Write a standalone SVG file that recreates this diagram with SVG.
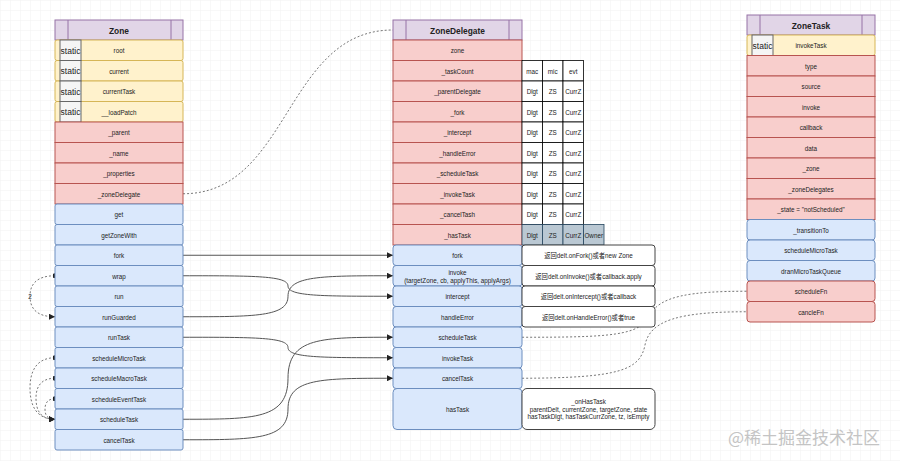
<svg xmlns="http://www.w3.org/2000/svg" width="900" height="461" viewBox="0 0 900 461">
<defs>
<pattern id="grid" width="10" height="10" patternUnits="userSpaceOnUse">
<path d="M10,0 L0,0 0,10" fill="none" stroke="#f1f1f1" stroke-width="1"/>
</pattern>
<marker id="arr" viewBox="0 0 6 6" refX="6" refY="3" markerWidth="6" markerHeight="6" markerUnits="userSpaceOnUse" orient="auto">
<path d="M0,0 L6,3 L0,6 z" fill="#222"/>
</marker>
<marker id="dot" viewBox="0 0 6 6" refX="3" refY="3" markerWidth="5" markerHeight="5" markerUnits="userSpaceOnUse" orient="auto">
<circle cx="3" cy="3" r="3" fill="#222"/>
</marker>
<style>
text{font-family:"Liberation Sans",Arial,"Noto Sans CJK SC",sans-serif;fill:#222;text-anchor:middle;dominant-baseline:central}
.t{font-size:6.3px}
.h{font-size:8.4px;font-weight:bold}
.s{font-size:8.5px}
.hd{fill:#e1d5e7;stroke:#9673a6;stroke-width:1}
.y{fill:#fff2cc;stroke:#d6b656;stroke-width:1}
.r{fill:#f8cecc;stroke:#b85450;stroke-width:1}
.b{fill:#dae8fc;stroke:#6c8ebf;stroke-width:1}
.st{fill:#f5f5f5;stroke:#666;stroke-width:1}
.c{fill:#fff;stroke:#000;stroke-width:0.8}
.cg{fill:#bac8d3;stroke:#23445d;stroke-width:0.8}
.w{fill:#fff;stroke:#444;stroke-width:1}
.e{fill:none;stroke:#555;stroke-width:1}
.d{fill:none;stroke:#777;stroke-width:1;stroke-dasharray:2 2}
</style>
</defs>
<rect width="900" height="461" fill="#fff"/>
<rect width="900" height="461" fill="url(#grid)"/>

<g id="connectors">
<path class="d" d="M183,193.75 C290,193.75 285,30 393,30"/>
<path class="e" d="M183,255.25 L393,255.25" marker-end="url(#arr)"/>
<path class="e" d="M183,275.75 C255,275.75 288,275.75 288,286 S321,296.25 393,296.25" marker-end="url(#arr)"/>
<path class="e" d="M183,316.75 C255,316.75 288,316.75 288,296.25 S321,275.75 393,275.75" marker-end="url(#arr)"/>
<path class="e" d="M183,337.25 C255,337.25 288,337.25 288,347.5 S321,357.75 393,357.75" marker-end="url(#arr)"/>
<path class="e" d="M183,419.25 C255,419.25 288,419.25 288,378.25 S321,337.25 393,337.25" marker-end="url(#arr)"/>
<path class="e" d="M183,439.75 C255,439.75 288,439.75 288,409 S321,378.25 393,378.25" marker-end="url(#arr)"/>
<path class="d" d="M55,275.75 C36,275.75 30,285 30,296 C30,308 36,316.75 55,316.75" marker-start="url(#dot)" marker-end="url(#arr)"/>
<text class="t" x="30" y="296">2</text>
<path class="d" d="M55,357.75 C36,357.75 30,372 30,388 C30,405 36,419.25 55,419.25" marker-start="url(#dot)" marker-end="url(#arr)"/>
<path class="d" d="M55,378.25 C40,378.25 36,388 36,398 C36,410 40,419.25 55,419.25" marker-start="url(#dot)" marker-end="url(#arr)"/>
<path class="d" d="M55,398.75 C47,398.75 45,404 45,409 C45,415 47,419.25 55,419.25" marker-start="url(#dot)" marker-end="url(#arr)"/>
<path class="d" d="M522,337.25 C610,337.25 640,336 650,315 C660,296 690,291.25 747,291.25"/>
<path class="d" d="M522,378.25 C620,378 640,370 645,345 C650,320 680,311.75 747,311.75"/>
</g>

<g id="zone">
<rect class="hd" x="55" y="20" width="128" height="20"/>
<path class="hd" d="M68,20 V40 M171,20 V40"/>
<text class="h" x="119" y="30.5">Zone</text>
<rect class="y" x="55" y="40" width="128" height="20.5" rx="2"/>
<rect class="y" x="55" y="60.5" width="128" height="20.5" rx="2"/>
<rect class="y" x="55" y="81" width="128" height="20.5" rx="2"/>
<rect class="y" x="55" y="101.5" width="128" height="20.5" rx="2"/>
<rect class="st" x="60" y="40" width="21" height="20.5"/>
<rect class="st" x="60" y="60.5" width="21" height="20.5"/>
<rect class="st" x="60" y="81" width="21" height="20.5"/>
<rect class="st" x="60" y="101.5" width="21" height="20.5"/>
<text class="s" x="70.5" y="50.5">static</text>
<text class="s" x="70.5" y="71">static</text>
<text class="s" x="70.5" y="91.5">static</text>
<text class="s" x="70.5" y="112">static</text>
<text class="t" x="119" y="50.5">root</text>
<text class="t" x="119" y="71">current</text>
<text class="t" x="119" y="91.5">currentTask</text>
<text class="t" x="119" y="112">__loadPatch</text>
<rect class="r" x="55" y="122" width="128" height="20.5"/>
<rect class="r" x="55" y="142.5" width="128" height="20.5"/>
<rect class="r" x="55" y="163" width="128" height="20.5"/>
<rect class="r" x="55" y="183.5" width="128" height="20.5"/>
<text class="t" x="119" y="132.5">_parent</text>
<text class="t" x="119" y="153">_name</text>
<text class="t" x="119" y="173.5">_properties</text>
<text class="t" x="119" y="194">_zoneDelegate</text>
<rect class="b" x="55" y="204" width="128" height="20.5" rx="2"/>
<rect class="b" x="55" y="224.5" width="128" height="20.5" rx="2"/>
<rect class="b" x="55" y="245" width="128" height="20.5" rx="2"/>
<rect class="b" x="55" y="265.5" width="128" height="20.5" rx="2"/>
<rect class="b" x="55" y="286" width="128" height="20.5" rx="2"/>
<rect class="b" x="55" y="306.5" width="128" height="20.5" rx="2"/>
<rect class="b" x="55" y="327" width="128" height="20.5" rx="2"/>
<rect class="b" x="55" y="347.5" width="128" height="20.5" rx="2"/>
<rect class="b" x="55" y="368" width="128" height="20.5" rx="2"/>
<rect class="b" x="55" y="388.5" width="128" height="20.5" rx="2"/>
<rect class="b" x="55" y="409" width="128" height="20.5" rx="2"/>
<rect class="b" x="55" y="429.5" width="128" height="20.5" rx="2"/>
<text class="t" x="119" y="214.5">get</text>
<text class="t" x="119" y="235">getZoneWith</text>
<text class="t" x="119" y="255.5">fork</text>
<text class="t" x="119" y="276">wrap</text>
<text class="t" x="119" y="296.5">run</text>
<text class="t" x="119" y="317">runGuarded</text>
<text class="t" x="119" y="337.5">runTask</text>
<text class="t" x="119" y="358">scheduleMicroTask</text>
<text class="t" x="119" y="378.5">scheduleMacroTask</text>
<text class="t" x="119" y="399">scheduleEventTask</text>
<text class="t" x="119" y="419.5">scheduleTask</text>
<text class="t" x="119" y="440">cancelTask</text>
</g>

<g id="zoneDelegate">
<rect class="hd" x="393" y="20" width="129" height="20"/>
<path class="hd" d="M406,20 V40 M509,20 V40"/>
<text class="h" x="457.5" y="30.5">ZoneDelegate</text>
<rect class="r" x="393" y="40" width="129" height="20.5"/>
<rect class="r" x="393" y="60.5" width="129" height="20.5"/>
<rect class="r" x="393" y="81" width="129" height="20.5"/>
<rect class="r" x="393" y="101.5" width="129" height="20.5"/>
<rect class="r" x="393" y="122" width="129" height="20.5"/>
<rect class="r" x="393" y="142.5" width="129" height="20.5"/>
<rect class="r" x="393" y="163" width="129" height="20.5"/>
<rect class="r" x="393" y="183.5" width="129" height="20.5"/>
<rect class="r" x="393" y="204" width="129" height="20.5"/>
<rect class="r" x="393" y="224.5" width="129" height="20.5"/>
<text class="t" x="457.5" y="50.5">zone</text>
<text class="t" x="457.5" y="71">_taskCount</text>
<text class="t" x="457.5" y="91.5">_parentDelegate</text>
<text class="t" x="457.5" y="112">_fork</text>
<text class="t" x="457.5" y="132.5">_intercept</text>
<text class="t" x="457.5" y="153">_handleError</text>
<text class="t" x="457.5" y="173.5">_scheduleTask</text>
<text class="t" x="457.5" y="194">_invokeTask</text>
<text class="t" x="457.5" y="214.5">_cancelTash</text>
<text class="t" x="457.5" y="235">_hasTask</text>
<rect class="b" x="393" y="245" width="129" height="20.5" rx="3"/>
<rect class="b" x="393" y="265.5" width="129" height="20.5" rx="3"/>
<rect class="b" x="393" y="286" width="129" height="20.5" rx="3"/>
<rect class="b" x="393" y="306.5" width="129" height="20.5" rx="3"/>
<rect class="b" x="393" y="327" width="129" height="20.5" rx="3"/>
<rect class="b" x="393" y="347.5" width="129" height="20.5" rx="3"/>
<rect class="b" x="393" y="368" width="129" height="20.5" rx="3"/>
<rect class="b" x="393" y="388.5" width="129" height="41" rx="4"/>
<text class="t" x="457.5" y="255.5">fork</text>
<text class="t" x="457.5" y="272">invoke</text>
<text class="t" x="457.5" y="280">(targetZone, cb, applyThis, applyArgs)</text>
<text class="t" x="457.5" y="296.5">intercept</text>
<text class="t" x="457.5" y="317">handleError</text>
<text class="t" x="457.5" y="337.5">scheduleTask</text>
<text class="t" x="457.5" y="358">invokeTask</text>
<text class="t" x="457.5" y="378.5">cancelTask</text>
<text class="t" x="457.5" y="409">hasTask</text>
</g>

<g id="taskCountTable">
<rect class="c" x="522" y="60.5" width="20.5" height="20.5"/><rect class="c" x="542.5" y="60.5" width="20.5" height="20.5"/><rect class="c" x="563" y="60.5" width="20.5" height="20.5"/>
<text class="t" x="532.25" y="71">mac</text><text class="t" x="552.75" y="71">mic</text><text class="t" x="573.25" y="71">evt</text>
<rect class="c" x="522" y="81" width="20.5" height="20.5"/><rect class="c" x="542.5" y="81" width="20.5" height="20.5"/><rect class="c" x="563" y="81" width="20.5" height="20.5"/>
<text class="t" x="532.25" y="91.5">Dlgt</text><text class="t" x="552.75" y="91.5">ZS</text><text class="t" x="573.25" y="91.5">CurrZ</text>
<rect class="c" x="522" y="101.5" width="20.5" height="20.5"/><rect class="c" x="542.5" y="101.5" width="20.5" height="20.5"/><rect class="c" x="563" y="101.5" width="20.5" height="20.5"/>
<text class="t" x="532.25" y="112">Dlgt</text><text class="t" x="552.75" y="112">ZS</text><text class="t" x="573.25" y="112">CurrZ</text>
<rect class="c" x="522" y="122" width="20.5" height="20.5"/><rect class="c" x="542.5" y="122" width="20.5" height="20.5"/><rect class="c" x="563" y="122" width="20.5" height="20.5"/>
<text class="t" x="532.25" y="132.5">Dlgt</text><text class="t" x="552.75" y="132.5">ZS</text><text class="t" x="573.25" y="132.5">CurrZ</text>
<rect class="c" x="522" y="142.5" width="20.5" height="20.5"/><rect class="c" x="542.5" y="142.5" width="20.5" height="20.5"/><rect class="c" x="563" y="142.5" width="20.5" height="20.5"/>
<text class="t" x="532.25" y="153">Dlgt</text><text class="t" x="552.75" y="153">ZS</text><text class="t" x="573.25" y="153">CurrZ</text>
<rect class="c" x="522" y="163" width="20.5" height="20.5"/><rect class="c" x="542.5" y="163" width="20.5" height="20.5"/><rect class="c" x="563" y="163" width="20.5" height="20.5"/>
<text class="t" x="532.25" y="173.5">Dlgt</text><text class="t" x="552.75" y="173.5">ZS</text><text class="t" x="573.25" y="173.5">CurrZ</text>
<rect class="c" x="522" y="183.5" width="20.5" height="20.5"/><rect class="c" x="542.5" y="183.5" width="20.5" height="20.5"/><rect class="c" x="563" y="183.5" width="20.5" height="20.5"/>
<text class="t" x="532.25" y="194">Dlgt</text><text class="t" x="552.75" y="194">ZS</text><text class="t" x="573.25" y="194">CurrZ</text>
<rect class="c" x="522" y="204" width="20.5" height="20.5"/><rect class="c" x="542.5" y="204" width="20.5" height="20.5"/><rect class="c" x="563" y="204" width="20.5" height="20.5"/>
<text class="t" x="532.25" y="214.5">Dlgt</text><text class="t" x="552.75" y="214.5">ZS</text><text class="t" x="573.25" y="214.5">CurrZ</text>
<rect class="cg" x="522" y="224.5" width="20.5" height="20.5"/><rect class="cg" x="542.5" y="224.5" width="20.5" height="20.5"/><rect class="cg" x="563" y="224.5" width="20.5" height="20.5"/><rect class="cg" x="583.5" y="224.5" width="20.5" height="20.5"/>
<text class="t" x="532.25" y="235">Dlgt</text><text class="t" x="552.75" y="235">ZS</text><text class="t" x="573.25" y="235">CurrZ</text><text class="t" x="593.75" y="235">Owner</text>
</g>

<g id="notes">
<rect class="w" x="522" y="245" width="133" height="20.5" rx="3"/>
<text class="t" x="588.5" y="255.5">返回delt.onFork()或者new Zone</text>
<rect class="w" x="522" y="265.5" width="133" height="20.5" rx="3"/>
<text class="t" x="588.5" y="276">返回delt.onInvoke()或者callback.apply</text>
<rect class="w" x="522" y="286" width="133" height="20.5" rx="3"/>
<text class="t" x="588.5" y="296.5">返回delt.onIntercept()或者callback</text>
<rect class="w" x="522" y="306.5" width="133" height="20.5" rx="3"/>
<text class="t" x="588.5" y="317">返回delt.onHandleError()或者true</text>
<rect class="w" x="522" y="388.5" width="133" height="41" rx="5"/>
<text class="t" x="588.5" y="401.5">_onHasTask</text>
<text class="t" x="588.5" y="409">parentDelt, currentZone, targetZone, state</text>
<text class="t" x="588.5" y="416.5">hasTaskDlgt, hasTaskCurrZone, tz, isEmpty</text>
</g>

<g id="zoneTask">
<rect class="hd" x="747" y="15" width="128" height="20"/>
<path class="hd" d="M760,15 V35 M862,15 V35"/>
<text class="h" x="811" y="25.5">ZoneTask</text>
<rect class="y" x="747" y="35" width="128" height="20.5" rx="2"/>
<rect class="st" x="752" y="35" width="21" height="20.5"/>
<text class="s" x="762.5" y="45.5">static</text>
<text class="t" x="811" y="45.5">invokeTask</text>
<rect class="r" x="747" y="55.5" width="128" height="20.5"/>
<rect class="r" x="747" y="76" width="128" height="20.5"/>
<rect class="r" x="747" y="96.5" width="128" height="20.5"/>
<rect class="r" x="747" y="117" width="128" height="20.5"/>
<rect class="r" x="747" y="137.5" width="128" height="20.5"/>
<rect class="r" x="747" y="158" width="128" height="20.5"/>
<rect class="r" x="747" y="178.5" width="128" height="20.5"/>
<rect class="r" x="747" y="199" width="128" height="20.5"/>
<text class="t" x="811" y="66">type</text>
<text class="t" x="811" y="86.5">source</text>
<text class="t" x="811" y="107">invoke</text>
<text class="t" x="811" y="127.5">callback</text>
<text class="t" x="811" y="148">data</text>
<text class="t" x="811" y="168.5">_zone</text>
<text class="t" x="811" y="189">_zoneDelegates</text>
<text class="t" x="811" y="209.5">_state =  "notScheduled"</text>
<rect class="b" x="747" y="219.5" width="128" height="20.5" rx="3"/>
<rect class="b" x="747" y="240" width="128" height="20.5" rx="3"/>
<rect class="b" x="747" y="260.5" width="128" height="20.5" rx="3"/>
<rect class="r" x="747" y="281" width="128" height="20.5" rx="3"/>
<rect class="r" x="747" y="301.5" width="128" height="20.5" rx="3"/>
<text class="t" x="811" y="230">_transitionTo</text>
<text class="t" x="811" y="250.5">scheduleMicroTask</text>
<text class="t" x="811" y="271">dranMicroTaskQueue</text>
<text class="t" x="811" y="291.5">scheduleFn</text>
<text class="t" x="811" y="312">cancleFn</text>
</g>

<text x="804" y="436" style="font-family:'Noto Sans CJK SC',sans-serif;font-size:17px;fill:#c4c4c4">@稀土掘金技术社区</text>
</svg>
